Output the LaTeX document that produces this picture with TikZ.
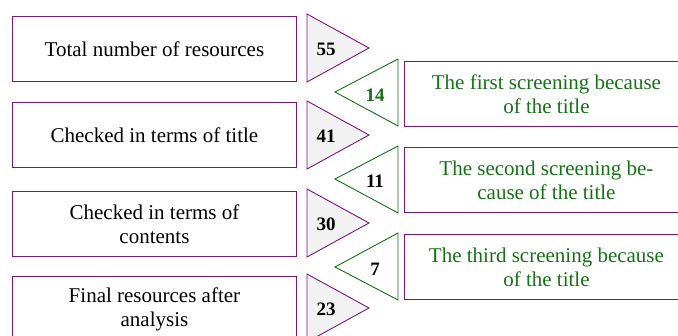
\documentclass[tikz,border=0pt]{standalone}
\usepackage{fontspec}
\setmainfont{Liberation Serif}
\definecolor{pur}{RGB}{128,20,128}
\definecolor{grn}{RGB}{20,115,20}
\definecolor{tri}{RGB}{242,242,242}
\begin{document}
\begin{tikzpicture}[x=1pt,y=-1pt,
  lbox/.style={draw=pur,line width=0.9pt,minimum width=284pt,minimum height=65pt,anchor=north west,align=center,font=\fontsize{21}{24}\selectfont,inner sep=0pt},
  rbox/.style={lbox,text=grn},
  gtri/.style={draw=pur,line width=0.9pt,fill=tri},
  wtri/.style={draw=grn,line width=0.9pt,fill=white},
  num/.style={font=\fontsize{19}{22}\selectfont\bfseries,inner sep=0pt}]
\useasboundingbox (0,0) rectangle (678,336);
\clip (0,0) rectangle (678,336);
% left boxes
\node[lbox] (b1) at (12,16) {Total number of resources};
\node[lbox] (b2) at (12,102) {Checked in terms of title};
\node[lbox] (b3) at (12,191) {Checked in terms of\\contents};
\node[lbox] (b4) at (12,276) {Final resources after\\analysis};
% right boxes
\node[rbox] (r1) at (404,61) {The first screening because\\of the title};
\node[rbox] (r2) at (404,147) {The second screening be-\\cause of the title};
\node[rbox] (r3) at (404,234) {The third screening because\\of the title};
% gray triangles
\draw[gtri] (307,14) -- (369,48) -- (307,82) -- cycle;
\draw[gtri] (307,101) -- (369,135) -- (307,169) -- cycle;
\draw[gtri] (307,189) -- (369,223) -- (307,257) -- cycle;
\draw[gtri] (307,274) -- (369,308) -- (307,342) -- cycle;
\node[num] (n1) at (326,49) {55};
\node[num] (n2) at (326,136) {41};
\node[num] (n3) at (326,224) {30};
\node[num] (n4) at (326,309) {23};
% white triangles
\draw[wtri] (398,59) -- (335,92) -- (398,126) -- cycle;
\draw[wtri] (398,146) -- (335,179) -- (398,213) -- cycle;
\draw[wtri] (398,233) -- (335,267) -- (398,300) -- cycle;
\node[num,text=grn] (m1) at (375,95) {14};
\node[num] (m2) at (375,181) {11};
\node[num] (m3) at (375,269) {7};
\end{tikzpicture}
\end{document}
